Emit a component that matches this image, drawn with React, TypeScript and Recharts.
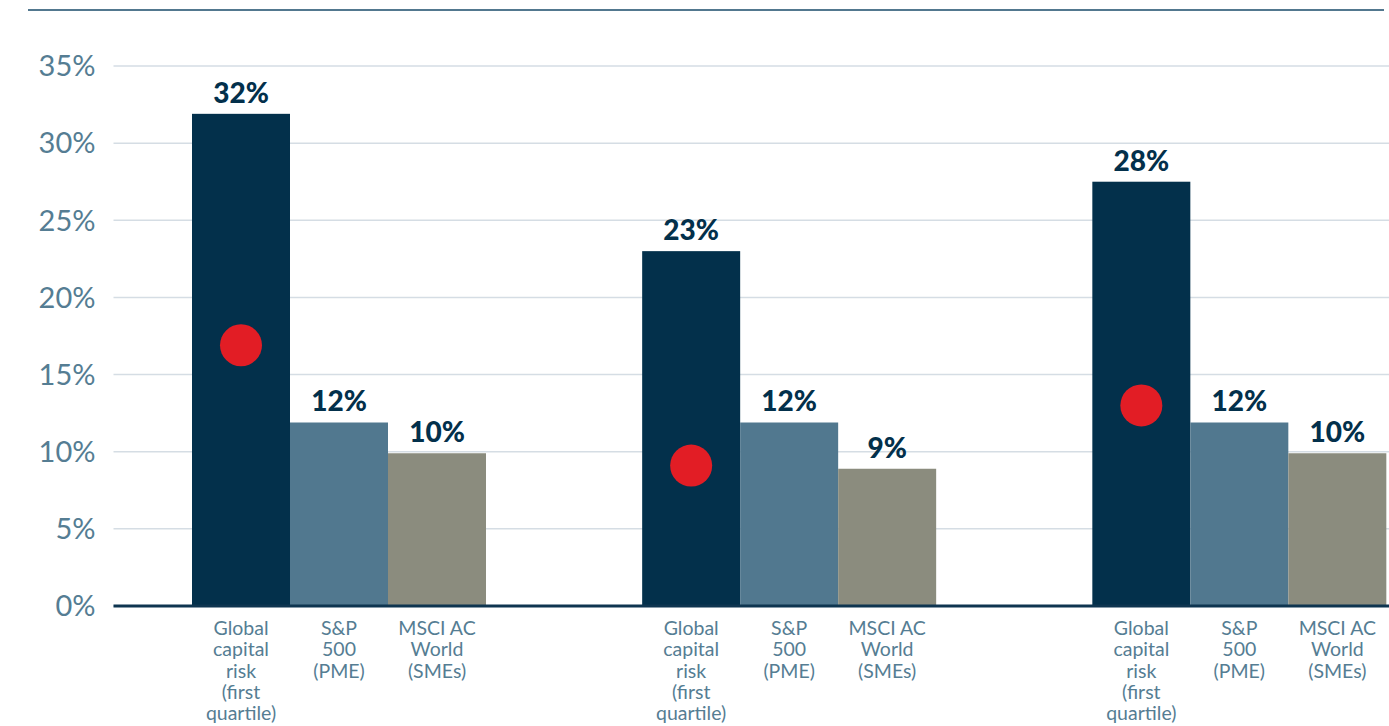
import { BarChart, Bar, XAxis, YAxis, CartesianGrid, LabelList, ReferenceLine } from 'recharts';

// three periods, each with three returns (in %)
const groups = ['A', 'B', 'C'];
const globalCapitalRisk = [31.9, 23.0, 27.5];
const sp500Pme = [11.9, 11.9, 11.9];
const msciWorldSme = [9.9, 8.9, 9.9];
const redDot = [16.9, 9.1, 13.0];

const yTicks = [0, 5, 10, 15, 20, 25, 30, 35];

const gcrLines = ['Global', 'capital', 'risk', '(first', 'quartile)'];
const spLines = ['S&P', '500', '(PME)'];
const msciLines = ['MSCI AC', 'World', '(SMEs)'];

const data = groups.map((g, i) => ({
  group: g,
  gcr: globalCapitalRisk[i],
  sp: sp500Pme[i],
  msci: msciWorldSme[i],
  dot: redDot[i],
}));

const FONT = 'Lato, "Noto Sans", sans-serif';
const NAVY = '#03304b';
const STEEL = '#51788f';
const GREY = '#8b8c7e';
const TICK = '#557d93';

const pct = (v: any) => Math.round(Number(v)) + '%';

// multi-line category text drawn under each bar
const underLabel = (lines: string[]) => (props: any) => {
  const vb = props.viewBox || props;
  const cx = vb.x + vb.width / 2;
  const bottom = Math.max(vb.y, vb.y + vb.height);
  return (
    <text x={cx} y={bottom + 29} textAnchor="middle" fill={TICK} fontSize={19.5} fontFamily={FONT}>
      {lines.map((l, i) => (
        <tspan key={i} x={cx} dy={i === 0 ? 0 : 21.3}>{l}</tspan>
      ))}
    </text>
  );
};

// first bar also carries the red marker, placed with the bar's own scale
const BarWithDot = (props: any) => {
  const { x, y, width, height, payload, fill } = props;
  const cy = y + height - (payload.dot / payload.gcr) * height;
  return (
    <g>
      <rect x={x} y={y} width={width} height={height} fill={fill} />
      <circle cx={x + width / 2} cy={cy} r={21} fill="#e21d25" />
    </g>
  );
};

export default function App() {
  return (
    <div style={{ position: 'absolute', left: 0, top: 0, width: 1389, height: 726, overflow: 'hidden', background: '#fff' }}>
      <div style={{ position: 'absolute', left: 28, top: 9, width: 1356, height: 2, background: '#52788f' }} />
      <BarChart
        width={1464}
        height={726}
        data={data}
        margin={{ top: 66, right: 0, bottom: 120, left: 13.5 }}
        barCategoryGap={78.5}
        barGap={0}
      >
        <CartesianGrid vertical={false} stroke="#d5dde4" strokeWidth={1.5} />
        <XAxis dataKey="group" hide />
        <YAxis
          width={100}
          domain={[0, 35]}
          ticks={yTicks}
          tickFormatter={pct}
          axisLine={false}
          tickLine={false}
          tickSize={0}
          tickMargin={18}
          tick={{ fill: TICK, fontSize: 29, fontFamily: FONT, fontWeight: 400 }}
        />
        <Bar dataKey="gcr" fill={NAVY} shape={BarWithDot} isAnimationActive={false}>
          <LabelList dataKey="gcr" position="top" offset={11} formatter={pct} fill={NAVY} fontSize={28} fontWeight={900} fontFamily={FONT} />
          <LabelList dataKey="gcr" content={underLabel(gcrLines)} />
        </Bar>
        <Bar dataKey="sp" fill={STEEL} isAnimationActive={false}>
          <LabelList dataKey="sp" position="top" offset={11} formatter={pct} fill={NAVY} fontSize={28} fontWeight={900} fontFamily={FONT} />
          <LabelList dataKey="sp" content={underLabel(spLines)} />
        </Bar>
        <Bar dataKey="msci" fill={GREY} isAnimationActive={false}>
          <LabelList dataKey="msci" position="top" offset={11} formatter={pct} fill={NAVY} fontSize={28} fontWeight={900} fontFamily={FONT} />
          <LabelList dataKey="msci" content={underLabel(msciLines)} />
        </Bar>
        <ReferenceLine y={0} stroke="#0e3550" strokeWidth={3} />
      </BarChart>
    </div>
  );
}
